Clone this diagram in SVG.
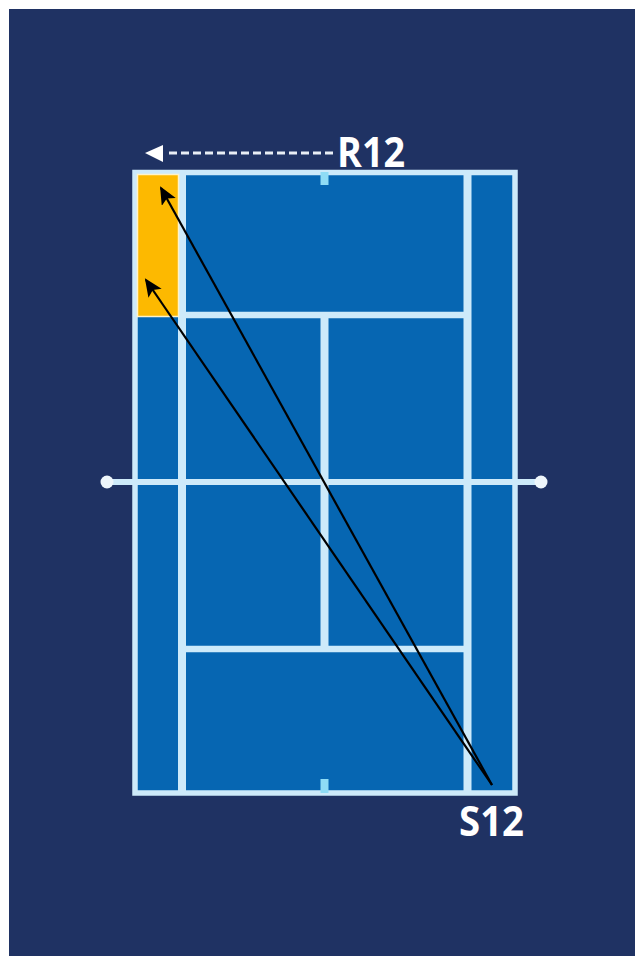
<svg xmlns="http://www.w3.org/2000/svg" width="635" height="956" viewBox="0 0 635 956">
<style>
.l{stroke:#cdeafa;fill:none}
.t{font-family:"Open Sans","Liberation Sans",sans-serif;font-weight:700;font-size:41px;fill:#fff}
.a{stroke:#000;stroke-width:2.200;fill:none;marker-end:url(#k)}
</style>
<defs>
<marker id="k" markerUnits="userSpaceOnUse" markerWidth="20" markerHeight="18" refX="16" refY="8" orient="auto"><path d="M0 0L18 8L0 16L4 8Z" fill="#000"/></marker>
</defs>
<rect width="635" height="956" fill="#fff"/>
<rect x="9" y="9" width="626" height="947" fill="#1f3263"/>
<g id="court">
<rect x="134" y="172" width="382" height="621" fill="#0666b2"/>
<path class="l" stroke-width="5.500" d="M135 172.500H515V793H135Z"/>
<path class="l" stroke-width="8" d="M182 172V793M467.500 172V793M324.500 315V649"/>
<path class="l" stroke-width="6.500" d="M182 315H467M182 649H467"/>
<path d="M324.500 172V185M324.500 779V793" stroke="#8fdcf5" stroke-width="8" fill="none"/>
</g>
<g id="net">
<path d="M107 482H541" stroke="#cdeafa" stroke-width="6" fill="none"/>
<circle cx="107" cy="482" r="6.500" fill="#eef6fb"/>
<circle cx="541" cy="482" r="6.500" fill="#eef6fb"/>
</g>
<g id="target">
<rect x="137.500" y="174.500" width="41" height="142" fill="#fdb900" stroke="#fff3c8" stroke-width="1.500"/>
</g>
<g id="connectors">
<path class="a" d="M492 785L161 188"/>
<path class="a" d="M492 785L146 280"/>
<path d="M333 153H167" stroke="#e8eef5" stroke-width="3" stroke-dasharray="8 4" fill="none"/>
<path d="M145 153L163 145V162Z" fill="#fff"/>
</g>
<g id="label-r12"><text class="t" x="337" y="167" textLength="68" lengthAdjust="spacingAndGlyphs">R12</text></g>
<g id="label-s12"><text class="t" x="459" y="836" textLength="65" lengthAdjust="spacingAndGlyphs">S12</text></g>
</svg>
